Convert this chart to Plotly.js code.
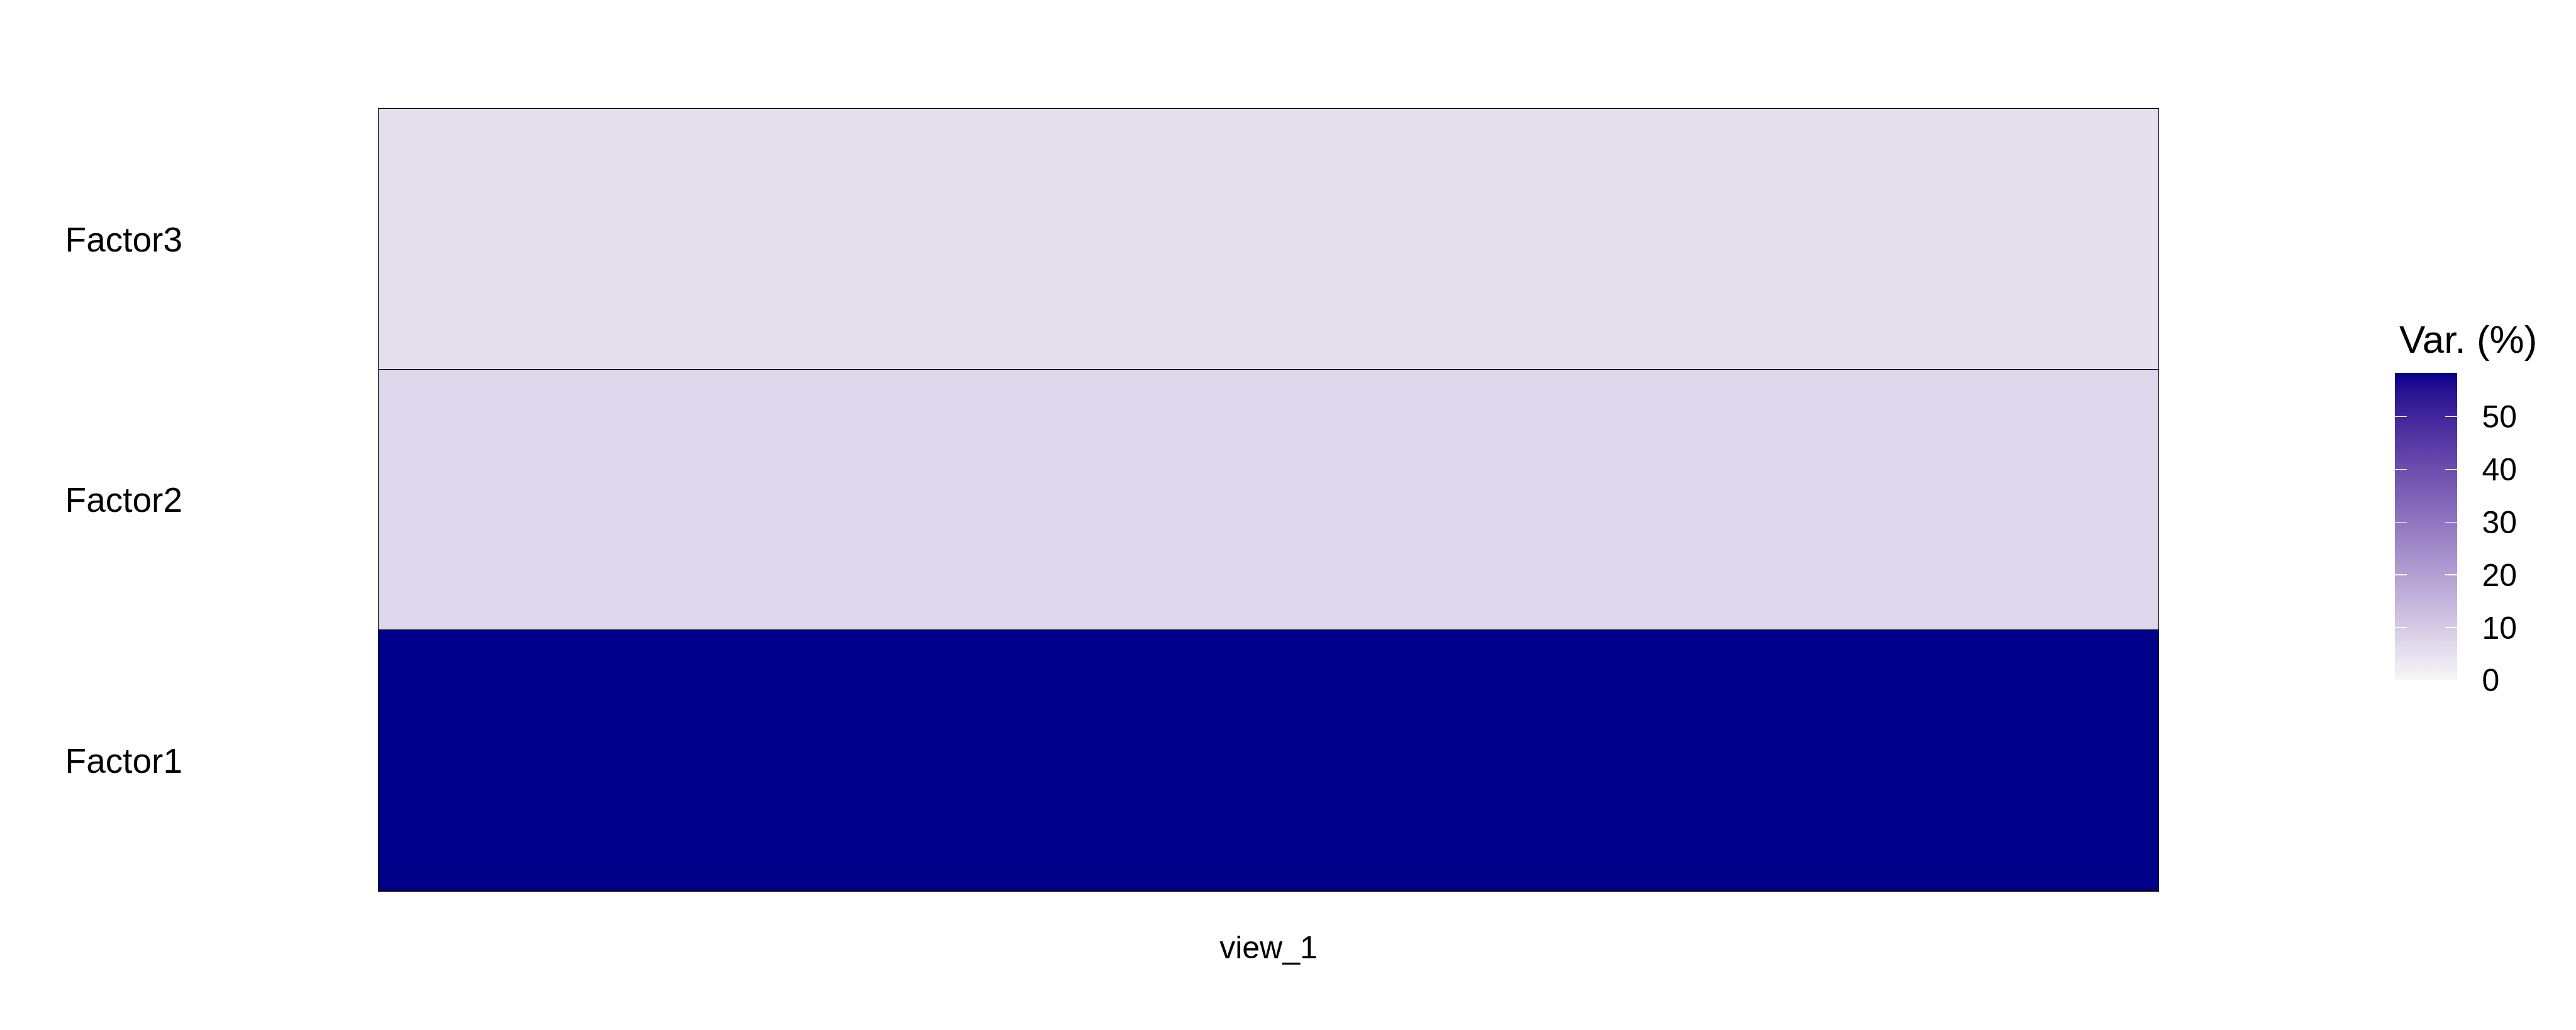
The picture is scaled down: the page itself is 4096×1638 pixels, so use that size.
<!DOCTYPE html>
<html>
<head>
<meta charset="utf-8">
<script src="https://cdn.plot.ly/plotly-3.0.1.min.js"></script>
<style>html,body{margin:0;padding:0;background:#fff;}#chart{width:4096px;height:1638px;}</style>
</head>
<body>
<div id="chart"></div>
<script>
// ---- data ----
var views = ['view_1'];
var factors = ['Factor1', 'Factor2', 'Factor3'];
var varExplained = [58.3, 7.3, 5.4];   // % variance explained, per factor (view_1)
var colorbarTicks = [0, 10, 20, 30, 40, 50];
var colorbarTickLabels = ['0', '10', '20', '30', '40', '50'];
var legendTitle = 'Var. (%)';

// ---- colour ramp gray97 -> darkblue interpolated in CIELAB (as ggplot does) ----
function toLin(c){c/=255;return c<=0.04045?c/12.92:Math.pow((c+0.055)/1.055,2.4);}
function toS(c){var v=c<=0.0031308?12.92*c:1.055*Math.pow(c,1/2.4)-0.055;return Math.round(Math.max(0,Math.min(1,v))*255);}
var Xn=0.95047,Yn=1,Zn=1.08883;
function f(t){return t>0.008856?Math.cbrt(t):7.787*t+16/116;}
function finv(t){var t3=t*t*t;return t3>0.008856?t3:(t-16/116)/7.787;}
function rgbToLab(r,g,b){
  var R=toLin(r),G=toLin(g),B=toLin(b);
  var X=0.4124*R+0.3576*G+0.1805*B,Y=0.2126*R+0.7152*G+0.0722*B,Z=0.0193*R+0.1192*G+0.9505*B;
  var fx=f(X/Xn),fy=f(Y/Yn),fz=f(Z/Zn);
  return [116*fy-16,500*(fx-fy),200*(fy-fz)];
}
function labToRgb(L,a,b){
  var fy=(L+16)/116,fx=fy+a/500,fz=fy-b/200;
  var X=Xn*finv(fx),Y=Yn*finv(fy),Z=Zn*finv(fz);
  var R=3.2406*X-1.5372*Y-0.4986*Z,G=-0.9689*X+1.8758*Y+0.0415*Z,B=0.0557*X-0.2040*Y+1.0570*Z;
  return 'rgb('+toS(R)+','+toS(G)+','+toS(B)+')';
}
var lowLab=rgbToLab(247,247,247), highLab=rgbToLab(0,0,139);
var colorscale=[];
var N=60;
for(var i=0;i<=N;i++){
  var t=i/N;
  colorscale.push([t,labToRgb(lowLab[0]+(highLab[0]-lowLab[0])*t,lowLab[1]+(highLab[1]-lowLab[1])*t,lowLab[2]+(highLab[2]-lowLab[2])*t)]);
}

var FONT='Liberation Sans, Arial, Helvetica, sans-serif';
var zmat = varExplained.map(function(v){return [v];});
var zmax = Math.max.apply(null, varExplained);

function cbBase(extra){
  var cb = {
    thicknessmode:'pixels', thickness:99,
    lenmode:'pixels', len:489,
    x:1.1329, xanchor:'left', xpad:0,
    y:0.2693, yanchor:'bottom', ypad:0,
    outlinewidth:0,
    tickmode:'array', tickvals:colorbarTicks, ticktext:colorbarTickLabels,
    tickfont:{family:FONT,size:50,color:'#000'}
  };
  for(var k in extra) cb[k]=extra[k];
  return cb;
}
function heat(cb){
  return {type:'heatmap', x:views, y:factors, z:zmat, zmin:0, zmax:zmax,
          colorscale:colorscale, ygap:1, hoverinfo:'skip', colorbar:cb};
}

var traces = [
  // colour bar carrying the labels
  heat(cbBase({ticks:'outside', ticklen:30, tickcolor:'rgba(0,0,0,0)'})),
  // white tick marks on the right edge of the bar
  heat(cbBase({ticks:'inside', ticklen:19, tickwidth:1.5, tickcolor:'#ffffff', showticklabels:false})),
  // white tick marks on the left edge of the bar
  heat(cbBase({thickness:19, ticks:'inside', ticklen:19, tickwidth:1.5, tickcolor:'#ffffff', showticklabels:false}))
];

var layout = {
  width:4096, height:1638,
  margin:{l:602, r:664, t:173, b:221, pad:0},
  paper_bgcolor:'#ffffff',
  plot_bgcolor:'#000000',
  font:{family:FONT, color:'#000'},
  xaxis:{
    type:'category',
    showgrid:false, zeroline:false,
    showline:true, mirror:true, linecolor:'#000', linewidth:1,
    ticks:'', ticklabelstandoff:46,
    tickfont:{family:FONT,size:50,color:'#000'},
    automargin:false, fixedrange:true
  },
  yaxis:{
    type:'category',
    showgrid:false, zeroline:false,
    showline:true, mirror:true, linecolor:'#000', linewidth:1,
    ticks:'', ticklabelstandoff:300,
    tickfont:{family:FONT,size:55,color:'#000'},
    automargin:false, fixedrange:true
  },
  annotations:[{
    text: legendTitle,
    xref:'paper', yref:'paper',
    x:1.1347, xanchor:'left',
    y:0.7053, yanchor:'middle',
    showarrow:false,
    font:{family:FONT,size:62,color:'#000'}
  }],
  showlegend:false
};

Plotly.newPlot('chart',traces,layout,{displayModeBar:false, staticPlot:true});
</script>
</body>
</html>
